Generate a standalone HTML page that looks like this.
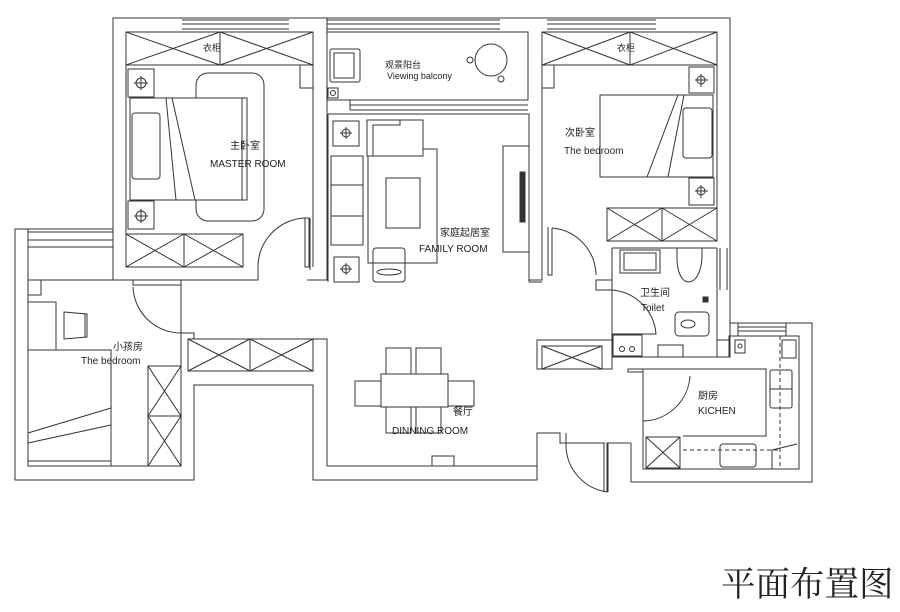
<!DOCTYPE html>
<html><head><meta charset="utf-8"><style>
html,body{margin:0;padding:0;background:#fff;}
svg{display:block}
text{font-family:"Liberation Sans","Noto Sans CJK SC",sans-serif;fill:#222;}
</style></head><body>
<svg width="900" height="612" viewBox="0 0 900 612" xmlns="http://www.w3.org/2000/svg">
<g fill="none" stroke="#333" stroke-width="1">
<path d="M113 280 V18 H730 V248"/>
<path d="M126 267 V32 H313 V267"/>
<path d="M182 20 H289 M182 24 H289 M182 29 H289"/>
<path d="M327 20 H500 M327 24 H500 M327 29 H500"/>
<path d="M547 20 H656 M547 24 H656 M547 29 H656"/>
<rect x="126" y="32" width="187" height="33"/>
<path d="M220 32 V65 M126 32 L220 65 M220 32 L126 65 M220 32 L313 65 M313 32 L220 65"/>
<rect x="300" y="65" width="13" height="23"/>
<rect x="128" y="69" width="26" height="28"/><rect x="128" y="201" width="26" height="28"/>
<circle cx="141" cy="83" r="5"/><path d="M134 83 H148 M141 76 V90"/>
<circle cx="141" cy="216" r="5"/><path d="M134 216 H148 M141 209 V223"/>
<rect x="196" y="73" width="68" height="148" rx="12"/>
<rect x="130" y="98" width="117" height="102" fill="#fff"/>
<path d="M166 98 L176 200 M172 98 L195 200 M242 98 V200"/>
<rect x="132" y="113" width="28" height="66" rx="3"/>
<rect x="126" y="234" width="117" height="33"/>
<path d="M184 234 V267 M126 234 L184 267 M184 234 L126 267 M184 234 L243 267 M243 234 L184 267"/>
<path d="M305 218 V267 H309 V218 Z"/>
<path d="M305 218 A49 49 0 0 0 258 267"/>
<path d="M327 18 V280 H307 M258 267 V280 H113"/>
<path d="M327 32 H528 V100 H350 V110 M350 100 H327"/>
<path d="M350 105 H528 M350 110 H528"/>
<rect x="330" y="49" width="30" height="33" rx="2"/><rect x="334" y="53" width="20" height="25"/>
<rect x="328" y="88" width="10" height="10"/><circle cx="333" cy="93" r="2.5"/>
<circle cx="491" cy="60" r="16"/><circle cx="470" cy="60" r="3"/><circle cx="501" cy="79" r="3"/>
<path d="M328 114 H529 V282 M328 114 V282"/>
<rect x="331" y="156" width="32" height="89"/><path d="M331 185 H363 M331 216 H363"/>
<rect x="368" y="149" width="69" height="114"/>
<rect x="367" y="120" width="56" height="36" fill="#fff"/><path d="M373 156 V125 H400 V120"/>
<rect x="386" y="178" width="34" height="50"/>
<rect x="333" y="121" width="26" height="25"/><circle cx="346" cy="133" r="4"/><path d="M340 133 H352 M346 127 V139"/>
<rect x="334" y="257" width="25" height="25"/><circle cx="346" cy="269" r="4"/><path d="M340 269 H352 M346 263 V275"/>
<rect x="373" y="248" width="32" height="34" rx="3"/><ellipse cx="389" cy="272" rx="12" ry="3"/>
<rect x="503" y="146" width="26" height="106"/>
<rect x="520" y="172" width="5" height="50" fill="#333"/>
<path d="M310 218 V270 M529 282 H542"/>
<path d="M542 32 V280 H529 M542 32 H717 V241"/>
<rect x="542" y="32" width="175" height="33"/>
<path d="M630 32 V65 M542 32 L630 65 M630 32 L542 65 M630 32 L717 65 M717 32 L630 65"/>
<rect x="542" y="65" width="12" height="23"/>
<rect x="689" y="67" width="25" height="26"/><circle cx="701" cy="80" r="4"/><path d="M695 80 H708 M701 74 V87"/>
<rect x="689" y="178" width="25" height="27"/><circle cx="701" cy="191" r="4"/><path d="M695 191 H708 M701 185 V198"/>
<rect x="600" y="95" width="113" height="82"/>
<path d="M678 95 L647 177 M684 95 L668 177"/>
<rect x="683" y="108" width="29" height="50" rx="3"/>
<rect x="607" y="208" width="110" height="33"/>
<path d="M662 208 V241 M607 208 L662 241 M662 208 L607 241 M662 208 L717 241 M717 208 L662 241"/>
<path d="M548 227 V275 H552 V228"/><path d="M552 228 A48 48 0 0 1 596 275"/>
<path d="M612 248 H717 M612 248 V357 M730 248 V340 H717 V357 M717 248 V357"/>
<path d="M720 248 V290 M727 248 V290"/>
<rect x="620" y="250" width="40" height="23"/><rect x="624" y="253" width="32" height="17"/>
<path d="M677 248 V258 C677 290 700 290 702 258 V248"/>
<rect x="675" y="312" width="34" height="24" rx="4"/><ellipse cx="688" cy="324" rx="7" ry="4"/>
<rect x="703" y="297" width="5" height="5" fill="#333"/>
<rect x="613" y="335" width="29" height="21"/><circle cx="622" cy="349" r="2.5"/><circle cx="632" cy="349" r="2.5"/>
<rect x="658" y="345" width="25" height="12"/>
<path d="M612 290 A48 48 0 0 1 656 334 H612"/>
<path d="M612 280 H596 V290 H612"/>
<path d="M537 340 H612 V369 H537 Z"/>
<rect x="542" y="346" width="60" height="23"/><path d="M542 346 L602 369 M602 346 L542 369"/>
<path d="M612 357 H717 M717 357 H730 V323 H812 V482 H631 V443"/>
<path d="M643 369 H766 V436 H683 M643 369 V469 H799 V336 H729 V357"/>
<path d="M738 323 V336 M786 323 V336 M738 327 H786 M738 331 H786"/>
<path d="M643 369 H628 V372 H643"/>
<path d="M690 376 A48 48 0 0 1 643 421"/>
<rect x="646" y="437" width="34" height="31"/><path d="M646 437 L680 468 M680 437 L646 468"/>
<rect x="720" y="444" width="36" height="23" rx="3"/>
<rect x="770" y="370" width="22" height="38" rx="2"/><path d="M770 389 H792"/>
<path d="M780 336 V469 M683 450 H780" stroke-dasharray="4,3"/>
<path d="M772 469 V450 L797 444"/>
<rect x="782" y="340" width="14" height="18"/>
<rect x="735" y="340" width="10" height="13"/><circle cx="740" cy="346" r="2"/>
<path d="M113 229 H15 V480 H194 V385 H313 V480 H537 V467 M28 229 V466 H181 V333"/>
<path d="M28 232 H113 M28 240 H113 M28 247 H113"/>
<path d="M28 280 H133 V285 H181 V280 M181 285 V333 H194 V339 H327 V466 H537"/>
<rect x="28" y="280" width="13" height="15"/>
<rect x="28" y="302" width="28" height="48"/>
<path d="M64 312 L87 314 V337 L64 339 Z M85 314 V337"/>
<rect x="28" y="350" width="83" height="116"/>
<path d="M28 433 L111 408 M28 443 L111 425 M28 461 H111"/>
<rect x="148" y="366" width="33" height="100"/><path d="M148 416 H181 M148 366 L181 416 M181 366 L148 416 M148 416 L181 466 M181 416 L148 466"/>
<path d="M133 287 A48 48 0 0 0 181 333"/>
<rect x="188" y="339" width="125" height="32"/>
<path d="M250 339 V371 M188 339 L250 371 M250 339 L188 371 M250 339 L313 371 M313 339 L250 371"/>
<rect x="381" y="374" width="67" height="33"/>
<rect x="386" y="348" width="25" height="26"/><rect x="416" y="348" width="25" height="26"/>
<rect x="386" y="407" width="25" height="26"/><rect x="416" y="407" width="25" height="26"/>
<rect x="355" y="381" width="26" height="25"/><rect x="448" y="381" width="26" height="25"/>
<rect x="432" y="456" width="22" height="10"/>
<path d="M537 467 V433 H560 V443 H605 M566 433 V447 A48 48 0 0 0 607 492 V443 H631"/>
<path d="M604 443 V492 M608 443 V492"/>
</g>
<g font-size="10">
<text x="210" y="167">MASTER ROOM</text>
<text x="230" y="149" font-size="10">主卧室</text>
<text x="385" y="68" font-size="9">观景阳台</text>
<text x="387" y="79" font-size="9">Viewing balcony</text>
<text x="440" y="236" font-size="10">家庭起居室</text>
<text x="419" y="252">FAMILY ROOM</text>
<text x="565" y="136" font-size="10">次卧室</text>
<text x="564" y="154">The bedroom</text>
<text x="640" y="296" font-size="10">卫生间</text>
<text x="641" y="311">Toilet</text>
<text x="698" y="399" font-size="10">厨房</text>
<text x="698" y="414">KICHEN</text>
<text x="113" y="350" font-size="10">小孩房</text>
<text x="81" y="364">The bedroom</text>
<text x="453" y="415" font-size="10">餐厅</text>
<text x="392" y="434">DINNING ROOM</text>
<text x="203" y="51" font-size="9">衣柜</text>
<text x="617" y="51" font-size="9">衣柜</text>
</g>
<text x="721" y="596" font-size="34.5" style="font-family:'Liberation Serif','Noto Serif CJK SC',serif">平面布置图</text>
</svg>
</body></html>
